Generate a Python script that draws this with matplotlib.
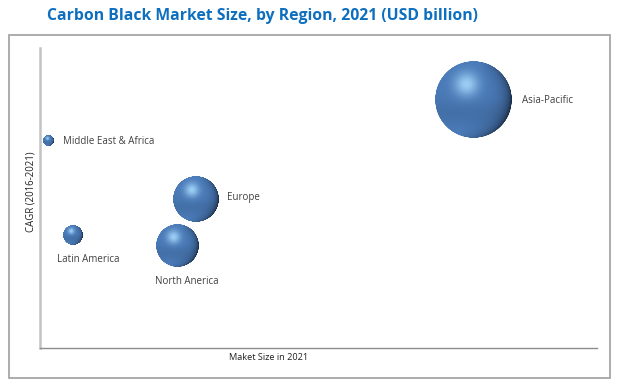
import numpy as np
import matplotlib
matplotlib.use("Agg")
import matplotlib.pyplot as plt
from matplotlib.offsetbox import OffsetImage, AnnotationBbox
from matplotlib.patches import Rectangle

# ---------------- data ----------------
regions = ["Asia-Pacific", "Middle East & Africa", "Europe", "North Anerica", "Latin America"]
market_size = [77.9, 1.6, 28.0, 24.6, 5.9]
cagr = [82.7, 69.0, 49.7, 34.0, 37.7]
bubble_value = [100.0, 2.0, 35.0, 30.4, 6.6]

title = "Carbon Black Market Size, by Region, 2021 (USD billion)"
xlabel = "Maket Size in 2021"
ylabel = "CAGR (2016-2021)"

# ---------------- figure ----------------
W, H, DPI = 617, 384, 100
fig = plt.figure(figsize=(W / DPI, H / DPI), dpi=DPI)
fig.patch.set_facecolor("white")

def px(x0, y0, x1, y1):
    return [x0 / W, 1 - y1 / H, (x1 - x0) / W, (y1 - y0) / H]

# outer frame
fig.patches.append(Rectangle((9 / W, 1 - 378 / H), 601 / W, 343 / H,
                             transform=fig.transFigure, fill=False,
                             edgecolor="#a6a6a6", linewidth=1.3))

ax = fig.add_axes(px(40, 48, 597, 348))
ax.set_xlim(0, 100)
ax.set_ylim(0, 100)
ax.set_xticks([])
ax.set_yticks([])
for s in ["top", "right"]:
    ax.spines[s].set_visible(False)
ax.spines["left"].set_color("#c3c3c3")
ax.spines["left"].set_linewidth(1.8)
ax.spines["bottom"].set_color("#8c8c8c")
ax.spines["bottom"].set_linewidth(1.0)
ax.patch.set_alpha(0)


def sphere_image(N=240):
    y, x = np.mgrid[-1:1:N * 1j, -1:1:N * 1j]
    v = -y
    r2 = x ** 2 + v ** 2
    r = np.sqrt(r2)
    z = np.sqrt(np.clip(1 - r2, 0, 1))
    base = np.array([0.29, 0.48, 0.72])
    dark = np.array([0.09, 0.15, 0.24])
    hi = np.array([0.66, 0.86, 1.0])
    # darkening toward right / lower-right rim
    d = np.clip(0.85 * x - 0.25 * v + 0.1, 0, 1) * np.clip(1 - z, 0, 1) ** 1.3
    d = np.clip(d * 1.15, 0, 0.9)
    col = base[None, None, :] * (1 - d[..., None]) + dark[None, None, :] * d[..., None]
    # soft highlight, upper centre-left
    g = np.exp(-((x + 0.18) ** 2 + (v - 0.40) ** 2) / (2 * 0.22 ** 2))
    col = col + (hi - base)[None, None, :] * (0.85 * g)[..., None]
    # slight darker band under the highlight, lighter reflection at bottom
    band = np.exp(-((v + 0.35) ** 2) / (2 * 0.25 ** 2)) * 0.08
    col = col * (1 - band[..., None])
    refl = np.clip(-v - 0.55, 0, 1) * np.clip(1 - np.abs(x) * 1.2, 0, 1) * 0.35
    col = col + np.array([0.10, 0.14, 0.18])[None, None, :] * refl[..., None]
    col = np.clip(col, 0, 1)
    alpha = np.clip((1 - r) * N / 2 + 0.5, 0, 1)
    return np.dstack([col, alpha])


img = sphere_image()
N = img.shape[0]
max_r_px = 38.5
label_offsets = {
    "Asia-Pacific": ("right", 10, -1),
    "Middle East & Africa": ("right", 9, 0),
    "Europe": ("right", 8, 1),
    "North Anerica": ("below", 10, 36),
    "Latin America": ("below", 15, 25),
}

for name, xv, yv, bv in zip(regions, market_size, cagr, bubble_value):
    r_px = max_r_px * np.sqrt(bv / 100.0)
    diam_pt = 2 * r_px * 72.0 / DPI
    oi = OffsetImage(img, zoom=diam_pt / N, interpolation="bilinear")
    ab = AnnotationBbox(oi, (xv, yv), xycoords="data", frameon=False, pad=0)
    ax.add_artist(ab)
    kind, dx, dy = label_offsets[name]
    if kind == "right":
        ax.annotate(name, (xv, yv), xytext=((r_px + dx) * 0.72, dy * 0.72),
                    textcoords="offset points", ha="left", va="center",
                    fontsize=7.0, color="#404040", family="Open Sans")
    else:
        ax.annotate(name, (xv, yv), xytext=(dx * 0.72, -dy * 0.72),
                    textcoords="offset points", ha="center", va="center",
                    fontsize=7.0, color="#404040", family="Open Sans")

fig.text(262 / W, 1 - 16 / H, title, ha="center", va="center",
         fontsize=11.3, fontweight="bold", color="#0e6fbf", family="Open Sans")
fig.text(269 / W, 1 - 357 / H, xlabel, ha="center", va="center",
         fontsize=6.6, color="#202020", family="Open Sans")
fig.text(31 / W, 1 - 192 / H, ylabel, ha="center", va="center", rotation=90,
         fontsize=6.9, color="#202020", family="Open Sans")

fig.savefig("out.png", dpi=DPI, facecolor="white")
